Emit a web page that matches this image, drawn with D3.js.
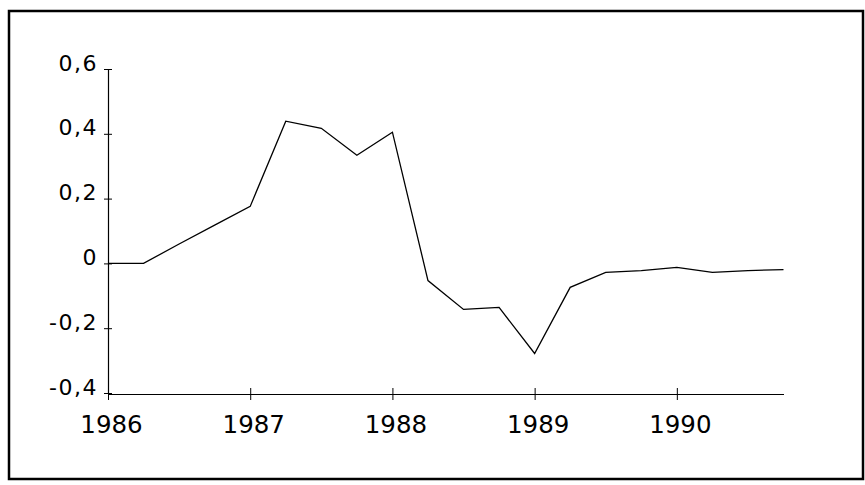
<!DOCTYPE html>
<html>
<head>
<meta charset="utf-8">
<script src="https://cdn.jsdelivr.net/npm/d3@7"></script>
<style>
  html, body { margin: 0; padding: 0; background: #fff; }
  svg { display: block; }
</style>
</head>
<body>
<svg id="chart" width="865" height="485"></svg>
<script>
// Quarterly observations (year fractions) and values
const quarters = [1986.00, 1986.25, 1986.50, 1986.75, 1987.00, 1987.25, 1987.50, 1987.75,
                  1988.00, 1988.25, 1988.50, 1988.75, 1989.00, 1989.25, 1989.50, 1989.75,
                  1990.00, 1990.25, 1990.50, 1990.75];
const values = [0.000, 0.000, 0.060, 0.118, 0.176, 0.439, 0.417, 0.334,
                0.405, -0.053, -0.142, -0.136, -0.278, -0.074, -0.028, -0.022,
                -0.012, -0.028, -0.022, -0.019];
const yTicks = [-0.4, -0.2, 0, 0.2, 0.4, 0.6];
const yTickLabels = ["-0,4", "-0,2", "0", "0,2", "0,4", "0,6"];
const xTicks = [1986, 1987, 1988, 1989, 1990];
const xTickLabels = ["1986", "1987", "1988", "1989", "1990"];

const svg = d3.select("#chart");

// outer frame
svg.append("rect")
  .attr("x", 9).attr("y", 11)
  .attr("width", 854).attr("height", 468)
  .attr("fill", "none").attr("stroke", "#000").attr("stroke-width", 2.5);

const x = d3.scaleLinear().domain([1986, 1990.75]).range([108, 783.5]);
const y = d3.scaleLinear().domain([-0.4, 0.6]).range([393, 69]);

// y axis
const yAxis = d3.axisLeft(y)
  .tickValues(yTicks)
  .tickSize(0)
  .tickFormat("");
const gy = svg.append("g").attr("transform", "translate(108,0)").call(yAxis);
gy.select(".domain").attr("stroke", "#000").attr("stroke-width", 1.2);
gy.selectAll(".tick").append("line")
  .attr("x1", -4).attr("x2", 4).attr("stroke", "#000").attr("stroke-width", 1);
gy.selectAll(".tick").append("text")
  .attr("x", -10).attr("y", 1)
  .attr("text-anchor", "end")
  .attr("fill", "#000")
  .style("font-family", "'DejaVu Sans', sans-serif")
  .style("font-size", "22px")
  .style("letter-spacing", "1.5px")
  .text((d, i) => yTickLabels[i]);

// x axis
const xAxis = d3.axisBottom(x)
  .tickValues(xTicks)
  .tickSize(0)
  .tickFormat("");
const gx = svg.append("g").attr("transform", "translate(0,394)").call(xAxis);
gx.select(".domain").attr("stroke", "#000").attr("stroke-width", 1.2);
gx.selectAll(".tick").append("line")
  .attr("y1", -6).attr("y2", 6).attr("stroke", "#000").attr("stroke-width", 1);
gx.selectAll(".tick").append("text")
  .attr("x", 3).attr("y", 39)
  .attr("text-anchor", "middle")
  .attr("fill", "#000")
  .style("font-family", "'DejaVu Sans', sans-serif")
  .style("font-size", "24.5px")
  .text((d, i) => xTickLabels[i]);

// series line
const line = d3.line()
  .x((d, i) => x(quarters[i]))
  .y(d => y(d));
svg.append("path")
  .datum(values)
  .attr("d", line)
  .attr("fill", "none")
  .attr("stroke", "#000")
  .attr("stroke-width", 1.3)
  .attr("stroke-linejoin", "miter");
</script>
</body>
</html>
